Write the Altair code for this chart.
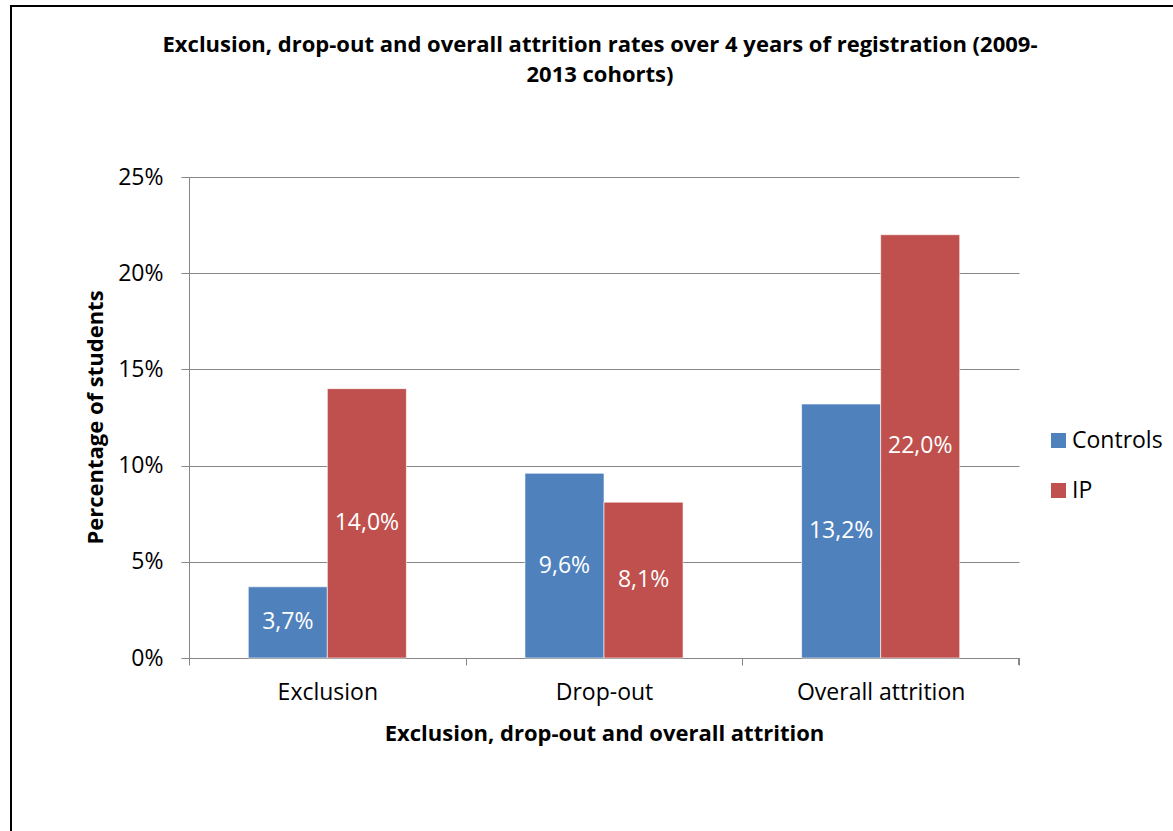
import altair as alt
import pandas as pd

categories = ["Exclusion", "Drop-out", "Overall attrition"]
groups = ["Controls", "IP"]
controls = [3.7, 9.6, 13.2]
ip = [14.0, 8.1, 22.0]
y_ticks = [0, 5, 10, 15, 20, 25]

rows = []
for c, v in zip(categories, controls):
    rows.append({"cat": c, "group": "Controls", "value": v})
for c, v in zip(categories, ip):
    rows.append({"cat": c, "group": "IP", "value": v})
df = pd.DataFrame(rows)
df["label"] = df["value"].map(lambda v: f"{v:.1f}%".replace(".", ","))

FONT = "Open Sans"
FS = 23
BFS = 22
W, H = 830, 481

x = alt.X("cat:N", sort=categories,
          scale=alt.Scale(paddingInner=0, paddingOuter=0),
          axis=alt.Axis(title="Exclusion, drop-out and overall attrition",
                        tickBand="extent", tickSize=7, tickColor="#868686",
                        domainColor="#868686", labelAngle=0, labelFontSize=FS,
                        labelPadding=16, labelColor="black", labelFont=FONT,
                        titleFont=FONT, titleFontSize=BFS, titleFontWeight="bold",
                        titleColor="black", titleY=75, titleBaseline="middle",
                        grid=False))
xo = alt.XOffset("group:N", sort=groups,
                 scale=alt.Scale(paddingInner=0, paddingOuter=0.75))
color = alt.Color("group:N", sort=groups,
                  scale=alt.Scale(domain=groups, range=["#4F81BD", "#C0504D"]),
                  legend=alt.Legend(title=None, orient="none", legendX=858,
                                    legendY=252, symbolType="square",
                                    symbolSize=225, symbolStrokeWidth=0,
                                    labelFontSize=FS, labelFont=FONT,
                                    labelColor="black", rowPadding=26,
                                    labelOffset=2, padding=0))

bars = alt.Chart(df).mark_bar(stroke="white", strokeWidth=0.6).encode(
    x=x, xOffset=xo,
    y=alt.Y("value:Q", scale=alt.Scale(domain=[0, 25], nice=False),
            axis=alt.Axis(values=y_ticks, title="Percentage of students",
                          labelExpr="datum.value + '%'", tickSize=8,
                          tickColor="#868686", domainColor="#868686",
                          gridColor="#868686", labelFontSize=FS, labelFont=FONT,
                          labelColor="black", labelPadding=18,
                          titleFont=FONT, titleFontSize=BFS,
                          titleFontWeight="bold", titleColor="black",
                          titleX=-94, titleY=240, titleBaseline="middle")),
    color=color,
)

texts = alt.Chart(df).transform_calculate(mid="datum.value / 2").mark_text(
    color="white", fontSize=FS, font=FONT, baseline="middle"
).encode(
    x=alt.X("cat:N", sort=categories), xOffset=xo,
    y="mid:Q", text="label:N",
)

endtick = alt.Chart(df).mark_rule(color="#868686").encode(
    x=alt.value(W), y=alt.value(H), y2=alt.value(H + 7)
)

frame_top = alt.Chart(df).mark_rule(color="black", strokeWidth=2).encode(
    x=alt.value(-179), x2=alt.value(1100), y=alt.value(-171)
)
frame_left = alt.Chart(df).mark_rule(color="black", strokeWidth=2).encode(
    x=alt.value(-178), y=alt.value(-172), y2=alt.value(900)
)

chart = alt.layer(frame_top, frame_left, bars, texts, endtick).properties(
    width=W, height=H,
    title=alt.Title(
        ["Exclusion, drop-out and overall attrition rates over 4 years of registration (2009-",
         "2013 cohorts)"],
        fontSize=BFS, font=FONT, fontWeight="bold", color="black",
        lineHeight=30, offset=-83, anchor="middle", dx=-4),
    padding={"left": 189, "top": 177, "right": 154, "bottom": 173},
    autosize=alt.AutoSizeParams(type="none"),
).configure_view(stroke=None)

chart.save("out.html", embed_options={"renderer": "svg", "actions": False})
